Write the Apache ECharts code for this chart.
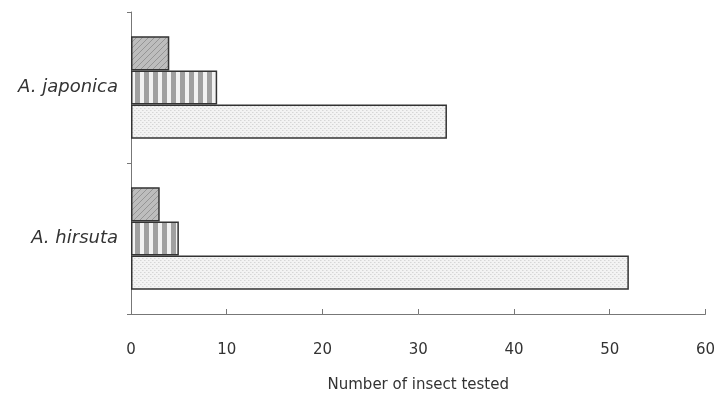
<!DOCTYPE html>
<html><head><meta charset="utf-8">
<script src="https://cdn.jsdelivr.net/npm/echarts@6/dist/echarts.min.js"></script>
<style>html,body{margin:0;padding:0;background:#fff}#c{width:718px;height:398px}</style>
</head><body><div id="c"></div>
<script>
const categories = ['A. hirsuta', 'A. japonica'];
const hatchedValues = [3, 4];
const stripedValues = [5, 9];
const dottedValues = [52, 33];
const xTicks = [0, 10, 20, 30, 40, 50, 60];
const xAxisName = 'Number of insect tested';

function pat(w, h, draw) {
  const c = document.createElement('canvas');
  c.width = w; c.height = h;
  const g = c.getContext('2d');
  draw(g, w, h);
  return { image: c, repeat: 'repeat' };
}
const hatch = pat(6, 6, (g, w, h) => {
  g.fillStyle = '#bdbdbd'; g.fillRect(0, 0, w, h);
  g.strokeStyle = '#959595'; g.lineWidth = 1;
  g.beginPath(); g.moveTo(0, h); g.lineTo(w, 0);
  g.moveTo(-w, h); g.lineTo(0, 0); g.moveTo(w, 2*h); g.lineTo(2*w, h);
  g.stroke();
});
const stripe = pat(9, 4, (g, w, h) => {
  g.fillStyle = '#f2f2f2'; g.fillRect(0, 0, w, h);
  g.fillStyle = '#a0a0a0'; g.fillRect(0, 0, 5, h);
});
const dots = pat(4, 4, (g, w, h) => {
  g.fillStyle = '#f3f3f3'; g.fillRect(0, 0, w, h);
  g.fillStyle = '#d6d6d6'; g.fillRect(0, 0, 1, 1); g.fillRect(2, 2, 1, 1);
  g.fillStyle = '#e4e4e4'; g.fillRect(1, 0, 1, 1); g.fillRect(3, 2, 1, 1);
});

const font = 'DejaVu Sans';
const border = { borderColor: '#333', borderWidth: 1.5 };
const chart = echarts.init(document.getElementById('c'), null, { renderer: 'canvas' });
chart.setOption({
  animation: false,
  backgroundColor: '#fff',
  grid: { left: 131, right: 11, top: 12, bottom: 80 },
  xAxis: {
    type: 'value', min: xTicks[0], max: xTicks[xTicks.length - 1], interval: 10,
    splitLine: { show: false },
    axisLine: { show: true, lineStyle: { color: '#777', width: 1 } },
    axisTick: { show: true, inside: true, length: 5, lineStyle: { color: '#777' } },
    axisLabel: { margin: 29, fontFamily: font, fontSize: 15, color: '#333' },
    name: xAxisName, nameLocation: 'middle', nameGap: 64,
    nameTextStyle: { fontFamily: font, fontSize: 15, color: '#333' }
  },
  yAxis: {
    type: 'category', data: categories,
    axisLine: { show: true, lineStyle: { color: '#777', width: 1 } },
    axisTick: { show: true, inside: false, length: 4, lineStyle: { color: '#777' } },
    axisLabel: { margin: 13, fontFamily: font, fontStyle: 'italic', fontSize: 18, color: '#333' }
  },
  series: [
    { type: 'bar', data: hatchedValues, itemStyle: Object.assign({ color: hatch }, border), barGap: '0%', barCategoryGap: '32%' },
    { type: 'bar', data: stripedValues, itemStyle: Object.assign({ color: stripe }, border), barGap: '0%', barCategoryGap: '32%' },
    { type: 'bar', data: dottedValues, itemStyle: Object.assign({ color: dots }, border), barGap: '0%', barCategoryGap: '32%' }
  ]
});
</script></body></html>
